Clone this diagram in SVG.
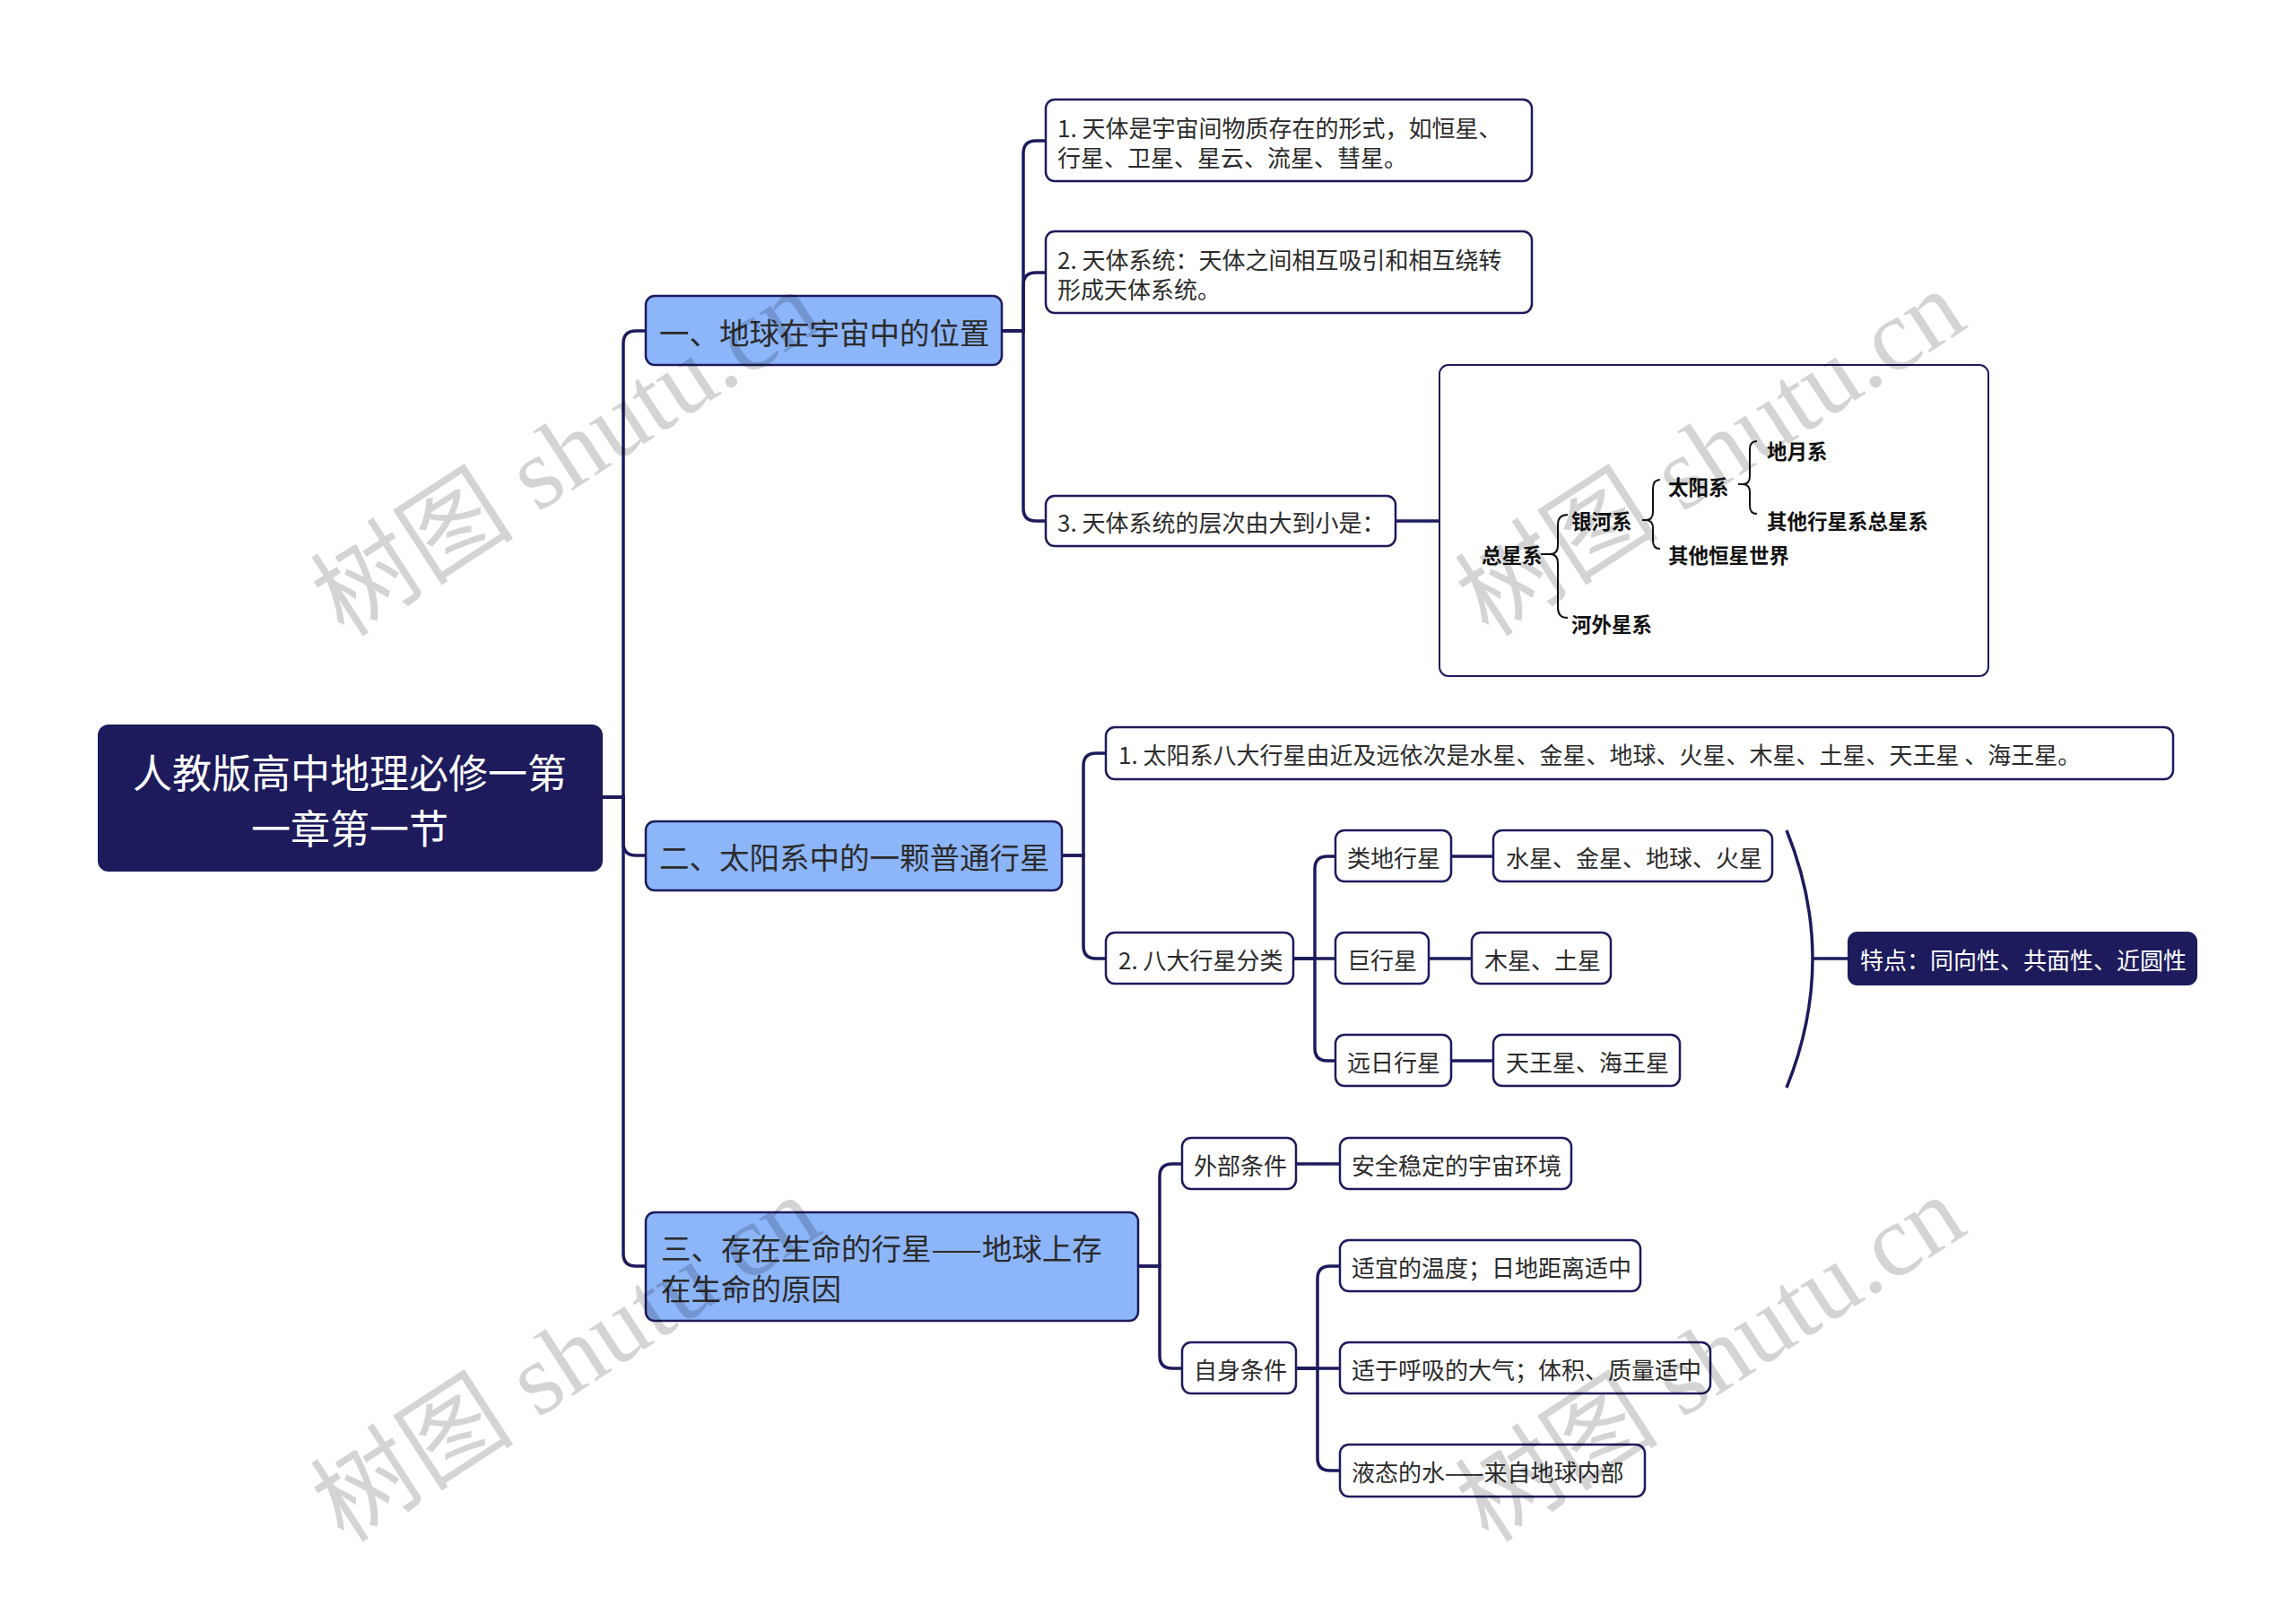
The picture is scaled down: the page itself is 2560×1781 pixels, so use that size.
<svg xmlns="http://www.w3.org/2000/svg" width="2560" height="1781" viewBox="0 0 2560 1781">
<style>
.t{font-family:"Noto Sans CJK SC","Liberation Sans",sans-serif;font-size:26px;fill:#2b2b2b;dominant-baseline:central}
.t1{font-family:"Noto Sans CJK SC","Liberation Sans",sans-serif;font-size:33.5px;fill:#2b2b2b;dominant-baseline:central}
.tr{font-family:"Noto Sans CJK SC","Liberation Sans",sans-serif;font-size:44px;fill:#ffffff;dominant-baseline:central;text-anchor:middle}
.tw{font-family:"Noto Sans CJK SC","Liberation Sans",sans-serif;font-size:26px;fill:#ffffff;dominant-baseline:central}
.tb{font-family:"Noto Sans CJK SC","Liberation Sans",sans-serif;font-size:22.5px;font-weight:bold;fill:#111;dominant-baseline:central}
.dark{fill:#1d1b5c;stroke:#1d1b5c;stroke-width:2}
.blue{fill:#8cb5fa;stroke:#1d1b5c;stroke-width:2.5}
.white{fill:#ffffff;stroke:#1d1b5c;stroke-width:2.5}
.box{fill:#ffffff;stroke:#1d1b5c;stroke-width:2}
.c{fill:none;stroke:#1d1b5c;stroke-width:3.5}
.br{fill:none;stroke:#111;stroke-width:2}
.wm{font-family:"Liberation Serif","Noto Sans CJK SC",serif;font-size:114px;fill:#000;fill-opacity:0.17}
</style>
<rect width="2560" height="1781" fill="#ffffff"/>
<g id="connectors">
<path class="c" d="M671,889 H695 V383 Q695,369 709,369 H720"/>
<path class="c" d="M671,889 H695 V940 Q695,954 709,954 H720"/>
<path class="c" d="M671,889 H695 V1398 Q695,1412 709,1412 H720"/>
<path class="c" d="M1117,369 H1141 V171 Q1141,157 1155,157 H1166"/>
<path class="c" d="M1117,369 H1141 V318 Q1141,304 1155,304 H1166"/>
<path class="c" d="M1117,369 H1141 V567 Q1141,581 1155,581 H1166"/>
<path class="c" d="M1556,581 H1605"/>
<path class="c" d="M1184,954 H1208 V854 Q1208,840 1222,840 H1233"/>
<path class="c" d="M1184,954 H1208 V1055 Q1208,1069 1222,1069 H1233"/>
<path class="c" d="M1442,1069 H1466 V969 Q1466,955 1480,955 H1489"/>
<path class="c" d="M1442,1069 H1489"/>
<path class="c" d="M1442,1069 H1466 V1169 Q1466,1183 1480,1183 H1489"/>
<path class="c" d="M1618,955 H1665"/>
<path class="c" d="M1593,1069 H1641"/>
<path class="c" d="M1618,1183 H1665"/>
<path class="c" d="M1992,926 Q2050,1069 1992,1213"/>
<path class="c" d="M2021,1069 H2061"/>
<path class="c" d="M1269,1412 H1293 V1312 Q1293,1298 1307,1298 H1318"/>
<path class="c" d="M1269,1412 H1293 V1512 Q1293,1526 1307,1526 H1318"/>
<path class="c" d="M1445,1298 H1494"/>
<path class="c" d="M1445,1526 H1469 V1426 Q1469,1412 1483,1412 H1494"/>
<path class="c" d="M1445,1526 H1494"/>
<path class="c" d="M1445,1526 H1469 V1626 Q1469,1640 1483,1640 H1494"/>
</g>
<g id="root">
<rect class="dark" x="110" y="809" width="561" height="162" rx="11"/>
<text class="tr" x="390" y="860">人教版高中地理必修一第</text>
<text class="tr" x="390" y="922">一章第一节</text>
</g>
<g id="n1">
<rect class="blue" x="720" y="330" width="397" height="77" rx="10"/>
<text class="t1" x="735" y="369">一、地球在宇宙中的位置</text>
</g>
<g id="n1-1">
<rect class="white" x="1166" y="111" width="542" height="91" rx="10"/>
<text class="t" x="1179" y="141">1. 天体是宇宙间物质存在的形式，如恒星、</text>
<text class="t" x="1179" y="174">行星、卫星、星云、流星、彗星。</text>
</g>
<g id="n1-2">
<rect class="white" x="1166" y="258" width="542" height="91" rx="10"/>
<text class="t" x="1179" y="288">2. 天体系统：天体之间相互吸引和相互绕转</text>
<text class="t" x="1179" y="321">形成天体系统。</text>
</g>
<g id="n1-3">
<rect class="white" x="1166" y="553" width="390" height="56" rx="10"/>
<text class="t" x="1179" y="581">3. 天体系统的层次由大到小是：</text>
</g>
<g id="n1-3-img">
<rect class="box" x="1605" y="407" width="612" height="347" rx="10"/>
<text class="tb" x="1652" y="618">总星系</text>
<path class="br" d="M1718,618 H1728 Q1737,618 1737,608 V585 Q1737,574 1748,574"/>
<path class="br" d="M1728,618 Q1737,618 1737,628 V678 Q1737,689 1748,689"/>
<text class="tb" x="1752" y="580">银河系</text>
<text class="tb" x="1752" y="695">河外星系</text>
<path class="br" d="M1831,580 H1835 Q1843,580 1843,571 V545 Q1843,535 1851,535"/>
<path class="br" d="M1835,580 Q1843,580 1843,589 V603 Q1843,612 1851,612"/>
<text class="tb" x="1860" y="542">太阳系</text>
<text class="tb" x="1860" y="618">其他恒星世界</text>
<path class="br" d="M1938,540 H1943 Q1951,540 1951,531 V501 Q1951,492 1959,492"/>
<path class="br" d="M1943,540 Q1951,540 1951,549 V564 Q1951,573 1959,573"/>
<text class="tb" x="1970" y="502">地月系</text>
<text class="tb" x="1970" y="580">其他行星系总星系</text>
</g>
<g id="n2">
<rect class="blue" x="720" y="916" width="464" height="77" rx="10"/>
<text class="t1" x="735" y="954">二、太阳系中的一颗普通行星</text>
</g>
<g id="n2-1">
<rect class="white" x="1233" y="811" width="1190" height="58" rx="10"/>
<text class="t" x="1247" y="840">1. 太阳系八大行星由近及远依次是水星、金星、地球、火星、木星、土星、天王星 、海王星。</text>
</g>
<g id="n2-2">
<rect class="white" x="1233" y="1040" width="209" height="57" rx="10"/>
<text class="t" x="1247" y="1069">2. 八大行星分类</text>
</g>
<g id="n2-2-1">
<rect class="white" x="1489" y="926" width="129" height="57" rx="10"/>
<text class="t" x="1502" y="955">类地行星</text>
</g>
<g id="n2-2-1v">
<rect class="white" x="1665" y="926" width="311" height="57" rx="10"/>
<text class="t" x="1679" y="955">水星、金星、地球、火星</text>
</g>
<g id="n2-2-2">
<rect class="white" x="1489" y="1040" width="104" height="57" rx="10"/>
<text class="t" x="1502" y="1069">巨行星</text>
</g>
<g id="n2-2-2v">
<rect class="white" x="1641" y="1040" width="155" height="57" rx="10"/>
<text class="t" x="1655" y="1069">木星、土星</text>
</g>
<g id="n2-2-3">
<rect class="white" x="1489" y="1154" width="129" height="57" rx="10"/>
<text class="t" x="1502" y="1183">远日行星</text>
</g>
<g id="n2-2-3v">
<rect class="white" x="1665" y="1154" width="208" height="57" rx="10"/>
<text class="t" x="1679" y="1183">天王星、海王星</text>
</g>
<g id="n2-summary">
<rect class="dark" x="2061" y="1040" width="388" height="58" rx="10"/>
<text class="tw" x="2074" y="1069">特点：同向性、共面性、近圆性</text>
</g>
<g id="n3">
<rect class="blue" x="720" y="1352" width="549" height="121" rx="10"/>
<text class="t1" x="737" y="1390">三、存在生命的行星——地球上存</text>
<text class="t1" x="737" y="1435">在生命的原因</text>
</g>
<g id="n3-1">
<rect class="white" x="1318" y="1269" width="127" height="57" rx="10"/>
<text class="t" x="1331" y="1298">外部条件</text>
</g>
<g id="n3-1-1">
<rect class="white" x="1494" y="1269" width="258" height="57" rx="10"/>
<text class="t" x="1507" y="1298">安全稳定的宇宙环境</text>
</g>
<g id="n3-2">
<rect class="white" x="1318" y="1497" width="127" height="57" rx="10"/>
<text class="t" x="1331" y="1526">自身条件</text>
</g>
<g id="n3-2-1">
<rect class="white" x="1494" y="1383" width="335" height="57" rx="10"/>
<text class="t" x="1507" y="1412">适宜的温度；日地距离适中</text>
</g>
<g id="n3-2-2">
<rect class="white" x="1494" y="1497" width="413" height="57" rx="10"/>
<text class="t" x="1507" y="1526">适于呼吸的大气；体积、质量适中</text>
</g>
<g id="n3-2-3">
<rect class="white" x="1494" y="1611" width="340" height="58" rx="10"/>
<text class="t" x="1507" y="1640">液态的水——来自地球内部</text>
</g>
<g id="watermarks">
<text class="wm" transform="translate(384,712) rotate(-33)">树图 shutu.cn</text>
<text class="wm" transform="translate(1660,712) rotate(-33)">树图 shutu.cn</text>
<text class="wm" transform="translate(384,1722) rotate(-33)">树图 shutu.cn</text>
<text class="wm" transform="translate(1660,1722) rotate(-33)">树图 shutu.cn</text>
</g>
</svg>
